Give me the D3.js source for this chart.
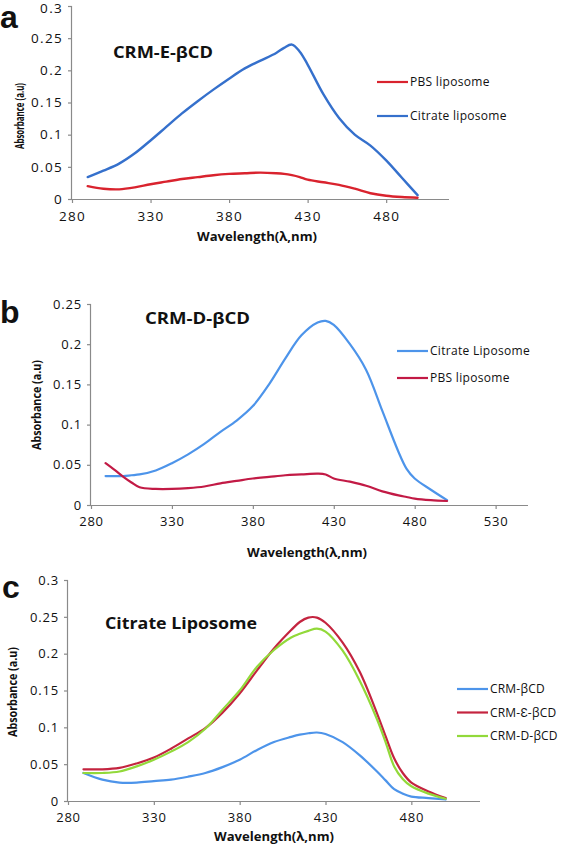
<!DOCTYPE html>
<html><head><meta charset="utf-8">
<script src="https://cdn.jsdelivr.net/npm/d3@7"></script>
<style>
html,body{margin:0;padding:0;background:#fff;}
svg text{font-family:"Open Sans",sans-serif;fill:#111;}
</style></head>
<body>
<svg id="chart" width="567" height="846"></svg>
<script>
// ---------- DATA ----------
// Panel a: CRM-E-βCD
const aWavelength = [290,300,310,320,330,340,350,360,370,380,390,400,410,415,420,425,430,440,450,460,470,480,490,500];
const aCitrate    = [0.034,0.044,0.055,0.071,0.091,0.112,0.133,0.152,0.170,0.187,0.203,0.215,0.227,0.235,0.240,0.229,0.209,0.163,0.126,0.100,0.083,0.060,0.033,0.006];
const aPBS        = [0.020,0.016,0.015,0.018,0.023,0.027,0.031,0.034,0.037,0.039,0.040,0.041,0.040,0.039,0.037,0.034,0.030,0.026,0.022,0.016,0.009,0.005,0.003,0.002];
// Panel b: CRM-D-βCD
const bWavelength = [289,295,300,305,310,320,330,340,350,360,370,380,390,400,410,420,425,430,440,450,460,470,475,480,490,500];
const bCitrate    = [0.036,0.036,0.036,0.037,0.038,0.043,0.052,0.063,0.076,0.091,0.105,0.123,0.150,0.182,0.211,0.227,0.229,0.224,0.200,0.168,0.117,0.066,0.045,0.033,0.019,0.006];
const bPBS        = [0.052,0.043,0.035,0.028,0.022,0.020,0.020,0.021,0.023,0.027,0.030,0.033,0.035,0.037,0.038,0.039,0.038,0.033,0.029,0.024,0.017,0.012,0.010,0.008,0.006,0.005];
// Panel c: Citrate Liposome
const cWavelength = [289,300,310,320,330,340,350,360,370,380,390,400,410,415,420,425,430,440,450,460,465,470,475,480,490,500];
const cCRM        = [0.038,0.029,0.025,0.025,0.027,0.029,0.033,0.038,0.046,0.056,0.069,0.080,0.087,0.090,0.092,0.093,0.091,0.080,0.062,0.040,0.028,0.016,0.010,0.006,0.004,0.002];
const cCRM_E      = [0.043,0.043,0.045,0.051,0.059,0.071,0.085,0.099,0.120,0.146,0.177,0.207,0.232,0.243,0.249,0.249,0.242,0.215,0.175,0.119,0.088,0.058,0.038,0.025,0.013,0.004];
const cCRM_D      = [0.038,0.038,0.040,0.047,0.056,0.067,0.080,0.098,0.124,0.150,0.182,0.205,0.222,0.227,0.231,0.234,0.230,0.204,0.163,0.111,0.080,0.047,0.030,0.020,0.010,0.003];

const aXTicks = [280,330,380,430,480];
const aYTicks = [0,0.05,0.1,0.15,0.2,0.25,0.3];
const bXTicks = [280,330,380,430,480,530];
const bYTicks = [0,0.05,0.1,0.15,0.2,0.25];
const cXTicks = [280,330,380,430,480];
const cYTicks = [0,0.05,0.1,0.15,0.2,0.25,0.3];

const aLegend = ["PBS liposome","Citrate liposome"];
const bLegend = ["Citrate Liposome","PBS liposome"];
const cLegend = ["CRM-βCD","CRM-Ɛ-βCD","CRM-D-βCD"];

const yLabel = "Absorbance (a.u)";
const xLabel = "Wavelength(λ,nm)";

// ---------- DRAW ----------
const svg = d3.select("#chart");
const fmt = v => v === 0 ? "0" : String(+v.toFixed(2));

function panel(cfg){
  const g = svg.append("g");
  const x = d3.scaleLinear().domain(cfg.xDomain).range([cfg.left, cfg.right]);
  const y = d3.scaleLinear().domain(cfg.yDomain).range([cfg.bottom, cfg.top]);

  const yAxis = d3.axisLeft(y).tickValues(cfg.yTicks).tickSize(4).tickPadding(cfg.yPad).tickFormat(fmt);
  const ya = g.append("g").attr("transform",`translate(${cfg.left},0)`).call(yAxis);
  const xAxis = d3.axisBottom(x).tickValues(cfg.xTicks).tickSize(4).tickPadding(cfg.xPad).tickFormat(d3.format("d"));
  const xa = g.append("g").attr("transform",`translate(0,${cfg.bottom})`).call(xAxis);
  [ya,xa].forEach(ax=>{
    ax.select(".domain").attr("stroke","#8a8a8a").attr("stroke-width",1.2);
    ax.selectAll(".tick line").attr("stroke","#8a8a8a").attr("stroke-width",1.2);
    ax.selectAll(".tick text").style("font-size",cfg.tickFont+"px").style("letter-spacing",cfg.tickLS+"px").attr("fill","#111");
  });
  if (cfg.topShift) ya.selectAll(".tick").filter(d=>d===cfg.yDomain[1]).select("text").attr("y",cfg.topShift);
  xa.select(".domain").attr("d",`M${cfg.left},0.5H${cfg.right}`);
  ya.select(".domain").attr("d",`M-0.5,${cfg.top}V${cfg.bottom}`);

  const line = d3.line().x(d=>x(d[0])).y(d=>y(d[1])).curve(d3.curveCatmullRom.alpha(0.5));
  cfg.series.forEach(s=>{
    g.append("path").datum(cfg.wl.map((w,i)=>[w,s.values[i]]))
      .attr("fill","none").attr("stroke",s.color).attr("stroke-width",cfg.lw)
      .attr("stroke-linejoin","round").attr("stroke-linecap","round").attr("d",line);
  });

  cfg.legendOrder.forEach((si,k)=>{
    const s = cfg.series[si];
    const ly = cfg.legY + k*cfg.legStep;
    g.append("line").attr("x1",cfg.legX).attr("x2",cfg.legX+31).attr("y1",ly).attr("y2",ly)
      .attr("stroke",s.color).attr("stroke-width",2.2);
    g.append("text").attr("x",cfg.legX+33).attr("y",ly).attr("dy","0.35em")
      .style("font-size",cfg.legFont+"px").style("letter-spacing",cfg.legLS+"px").text(cfg.legend[k]);
  });

  g.append("text").attr("x",cfg.titleX).attr("y",cfg.titleY).attr("dy","0.35em")
    .style("font-size",cfg.titleFont+"px").style("font-weight","bold")
    .attr("textLength",cfg.titleLen).attr("lengthAdjust","spacingAndGlyphs").text(cfg.title);
  g.append("text").attr("x",cfg.letterX).attr("y",cfg.letterY)
    .style("font-size",cfg.letterFont+"px").style("font-weight","bold").style("font-family","'Liberation Sans',Arial,sans-serif").text(cfg.letter);
  g.append("text").attr("transform",`translate(${cfg.yLabX},${cfg.yLabY}) rotate(-90)`)
    .attr("text-anchor","middle").attr("dy","0.35em")
    .style("font-size","12.5px").style("font-weight","bold")
    .attr("textLength",cfg.yLabLen).attr("lengthAdjust","spacingAndGlyphs").text(yLabel);
  g.append("text").attr("x",cfg.xLabX).attr("y",cfg.xLabY).attr("text-anchor","middle").attr("dy","0.35em")
    .style("font-size","12.5px").style("font-weight","bold")
    .attr("textLength",120).attr("lengthAdjust","spacingAndGlyphs").text(xLabel);
}

panel({
  xDomain:[280,520], yDomain:[0,0.3], left:72, right:449, top:6, bottom:199,
  xTicks:aXTicks, yTicks:aYTicks, yPad:5, xPad:8, tickFont:13.5, tickLS:1.3, topShift:2,
  wl:aWavelength, lw:2.4,
  series:[{values:aPBS,color:"#d9232e"},{values:aCitrate,color:"#3570cc"}],
  legend:aLegend, legendOrder:[0,1], legX:377, legY:82, legStep:34, legFont:12, legLS:0.3,
  title:"CRM-E-βCD", titleX:113, titleY:52, titleFont:16, titleLen:100,
  letter:"a", letterX:0, letterY:28, letterFont:32,
  yLabX:20, yLabY:116, yLabLen:66, xLabX:257, xLabY:237
});
panel({
  xDomain:[280,550], yDomain:[0,0.25], left:91, right:528, top:304, bottom:505,
  xTicks:bXTicks, yTicks:bYTicks, yPad:5, xPad:8, tickFont:13, tickLS:0.8,
  wl:bWavelength, lw:2.2,
  series:[{values:bCitrate,color:"#4d94ea"},{values:bPBS,color:"#c21a45"}],
  legend:bLegend, legendOrder:[0,1], legX:397, legY:351, legStep:27, legFont:12, legLS:0.3,
  title:"CRM-D-βCD", titleX:145, titleY:318, titleFont:16, titleLen:105,
  letter:"b", letterX:0, letterY:323, letterFont:32,
  yLabX:37, yLabY:405, yLabLen:90, xLabX:307, xLabY:553
});
panel({
  xDomain:[280,520], yDomain:[0,0.3], left:68, right:480, top:580, bottom:801,
  xTicks:cXTicks, yTicks:cYTicks, yPad:5, xPad:8, tickFont:13, tickLS:0.8,
  wl:cWavelength, lw:2.2,
  series:[{values:cCRM,color:"#4d94ea"},{values:cCRM_E,color:"#c4243f"},{values:cCRM_D,color:"#92d93a"}],
  legend:cLegend, legendOrder:[0,1,2], legX:457, legY:689, legStep:23.5, legFont:12, legLS:0.2,
  title:"Citrate Liposome", titleX:105, titleY:623, titleFont:16, titleLen:152,
  letter:"c", letterX:2, letterY:598, letterFont:32,
  yLabX:13, yLabY:692, yLabLen:90, xLabX:274, xLabY:837
});
</script>
</body></html>
